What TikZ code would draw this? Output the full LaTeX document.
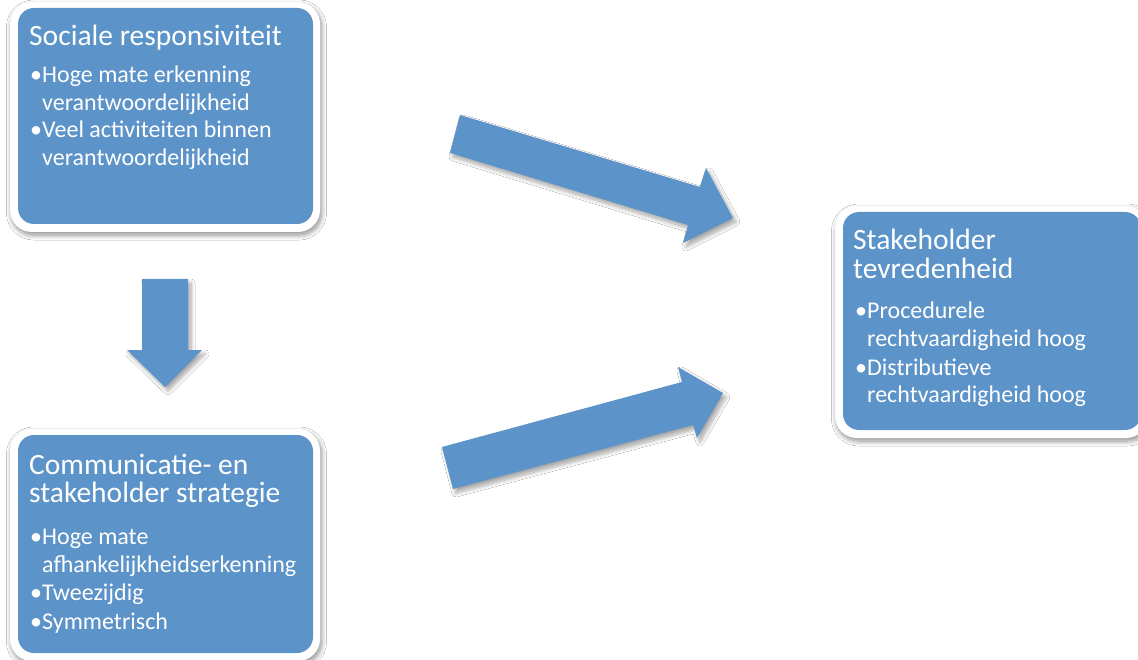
\documentclass[tikz,border=0pt]{standalone}
\usepackage{fontspec}
\setmainfont{Carlito}
\usetikzlibrary{shadows.blur}
\definecolor{boxblue}{RGB}{92,147,200}
\tikzset{
  panel/.style={fill=boxblue, draw=none, rounded corners=16pt,
    inner sep=0pt, outer sep=0pt, anchor=north west},
  frame/.style={fill=white, rounded corners=22pt,
    blur shadow={shadow xshift=1.5pt, shadow yshift=-3pt, shadow blur steps=10,
      shadow blur radius=5pt, shadow opacity=45}},
  blockarrow/.style={fill=boxblue, draw=none,
    blur shadow={shadow xshift=3pt, shadow yshift=-4pt, shadow blur steps=8,
      shadow blur radius=4pt, shadow opacity=35}},
  heading/.style={anchor=base west, inner sep=0pt, text=white,
    font=\fontsize{29.5}{31}\selectfont},
  entry/.style={anchor=base west, inner sep=0pt, text=white,
    font=\fontsize{24}{26}\selectfont},
}
\begin{document}
\begin{tikzpicture}[x=1pt, y=-1pt]
\useasboundingbox (0,0) rectangle (1138,660);
\fill[white] (0,0) rectangle (1138,660);

% white frames with soft shadows
\path[frame] (10,2) rectangle (320,232);
\path[frame] (10,429) rectangle (320,661);
\path[frame] (835,206) rectangle (1148,438);

% blue panels
\node[panel, minimum width=295pt, minimum height=216pt] (sr) at (18,8) {};
\node[panel, minimum width=295pt, minimum height=218pt] (cs) at (18,435) {};
\node[panel, minimum width=298pt, minimum height=218pt] (st) at (843,212) {};

% block arrows
\path[blockarrow] (142,279) -- (188,279) -- (188,350) -- (202,350) -- (165,387)
  -- (127,350) -- (142,350) -- cycle;
\path[blockarrow] (460,115) -- (700,187) -- (706,168) -- (733,218) -- (683,243)
  -- (688,225) -- (450,153) -- cycle;
\path[blockarrow] (442,447) -- (682,382) -- (678,367) -- (723,393) -- (697,438)
  -- (693,425) -- (453,489) -- cycle;

% Sociale responsiviteit
\node[heading] (sr-t) at (29,46) {Sociale responsiviteit};
\node[entry] (sr-b1) at (30,83) {•};
\node[entry] (sr-1a) at (42,83) {Hoge mate erkenning};
\node[entry] (sr-1b) at (42,111) {verantwoordelijkheid};
\node[entry] (sr-b2) at (30,138) {•};
\node[entry] (sr-2a) at (42,138) {Veel activiteiten binnen};
\node[entry] (sr-2b) at (42,166) {verantwoordelijkheid};

% Communicatie- en stakeholder strategie
\node[heading] (cs-t1) at (29,474) {Communicatie- en};
\node[heading] (cs-t2) at (29,502) {stakeholder strategie};
\node[entry] (cs-b1) at (30,544) {•};
\node[entry] (cs-1a) at (42,544) {Hoge mate};
\node[entry] (cs-1b) at (42,572) {afhankelijkheidserkenning};
\node[entry] (cs-b2) at (30,600) {•};
\node[entry] (cs-2) at (42,600) {Tweezijdig};
\node[entry] (cs-b3) at (30,629) {•};
\node[entry] (cs-3) at (42,629) {Symmetrisch};

% Stakeholder tevredenheid
\node[heading] (st-t1) at (853,250) {Stakeholder};
\node[heading] (st-t2) at (853,279) {tevredenheid};
\node[entry] (st-b1) at (855,319) {•};
\node[entry] (st-1a) at (867,319) {Procedurele};
\node[entry] (st-1b) at (867,347) {rechtvaardigheid hoog};
\node[entry] (st-b2) at (855,375) {•};
\node[entry] (st-2a) at (867,375) {Distributieve};
\node[entry] (st-2b) at (867,402) {rechtvaardigheid hoog};
\end{tikzpicture}
\end{document}
